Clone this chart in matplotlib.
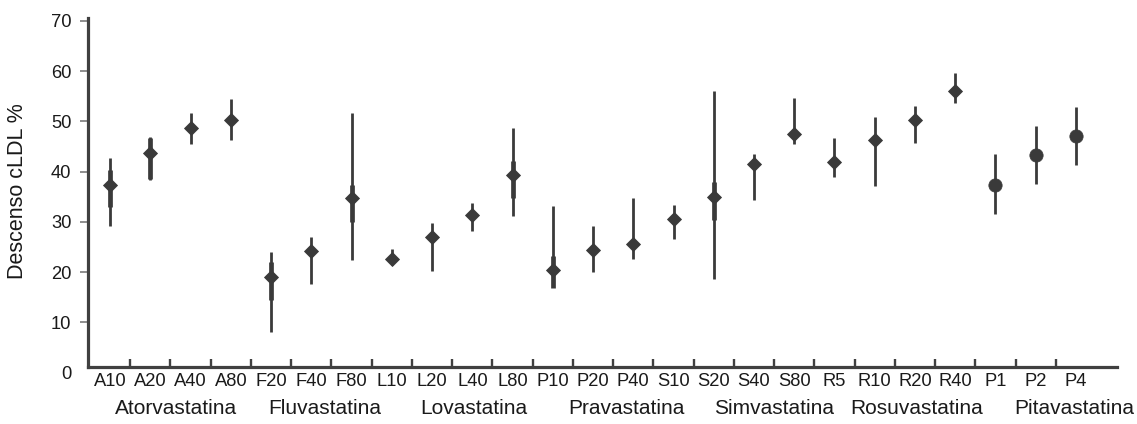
import numpy as np
import matplotlib
matplotlib.use("Agg")
import matplotlib.pyplot as plt
import matplotlib.transforms as mtransforms

plt.rcParams['font.family'] = ['Liberation Sans', 'DejaVu Sans']

# ---- data ----
categories = ["A10", "A20", "A40", "A80", "F20", "F40", "F80", "L10", "L20", "L40", "L80",
              "P10", "P20", "P40", "S10", "S20", "S40", "S80", "R5", "R10", "R20", "R40",
              "P1", "P2", "P4"]
center = [37.3, 43.6, 48.7, 50.3, 19.1, 24.1, 34.7, 22.7, 27.0, 31.4, 39.3,
          20.4, 24.4, 25.6, 30.5, 34.9, 41.5, 47.5, 42.0, 46.3, 50.3, 56.1,
          37.3, 43.3, 47.1]
range_low = [29.2, 38.3, 45.5, 46.3, 8.1, 17.6, 22.4, 21.4, 20.3, 28.2, 31.2,
             17.0, 20.1, 22.6, 26.6, 18.6, 34.3, 45.4, 39.0, 37.1, 45.6, 53.6,
             31.5, 37.5, 41.3]
range_high = [42.8, 46.8, 51.7, 54.5, 23.9, 26.9, 51.6, 24.5, 29.8, 33.8, 48.6,
              33.2, 29.2, 34.8, 33.4, 56.1, 43.5, 54.7, 46.6, 50.8, 53.0, 59.6,
              43.5, 49.1, 52.9]
# inner (thicker) interval, NaN where not drawn
inner_low = [32.9, 38.5, np.nan, np.nan, 14.4, np.nan, 30.0, np.nan, np.nan, np.nan, 34.7,
             16.8, np.nan, np.nan, np.nan, 30.4, np.nan, np.nan, np.nan, np.nan, np.nan, np.nan,
             np.nan, np.nan, np.nan]
inner_high = [40.3, 46.6, np.nan, np.nan, 22.1, np.nan, 37.3, np.nan, np.nan, np.nan, 42.2,
              23.2, np.nan, np.nan, np.nan, 38.0, np.nan, np.nan, np.nan, np.nan, np.nan, np.nan,
              np.nan, np.nan, np.nan]
marker_kind = ["D"] * 22 + ["o"] * 3
groups = ["Atorvastatina", "Fluvastatina", "Lovastatina", "Pravastatina",
          "Simvastatina", "Rosuvastatina", "Pitavastatina"]
ytick_values = [0, 10, 20, 30, 40, 50, 60, 70]

# ---- layout / style ----
group_label_x = [1.64, 5.33, 9.03, 12.82, 16.5, 20.04, 23.95]
dark = "#3a3a3a"

W, H = 1137, 424
fig = plt.figure(figsize=(W / 100, H / 100), dpi=100)
ax = fig.add_axes([88 / W, 1 - 372.6 / H, (1117 - 88) / W, (372.6 - 18.3) / H])

x = np.arange(len(categories))
ax.vlines(x, range_low, range_high, color=dark, lw=2.0, zorder=2)
ax.vlines(x, inner_low, inner_high, color=dark, lw=3.4, zorder=2)
for xi, yi, mk in zip(x, center, marker_kind):
    if mk == "D":
        ax.plot(xi, yi, marker="D", ms=7.0, color=dark, mec=dark, mew=0.6, zorder=3)
    else:
        ax.plot(xi, yi, marker="o", ms=9.6, color=dark, mec=dark, mew=0.5, zorder=3)

ax.set_xlim(-0.55, 25.02)
ax.set_ylim(0, 70.5)

# spines
for s in ["top", "right"]:
    ax.spines[s].set_visible(False)
ax.spines["bottom"].set_position(("data", 1.05))
ax.spines["left"].set_bounds(1.05, 70.5)
for s in ["bottom", "left"]:
    ax.spines[s].set_linewidth(2.3)
    ax.spines[s].set_color("#404040")

# x ticks: labels at categories, tick marks between
ax.set_xticks(x)
ax.set_xticklabels(categories, fontsize=13.2)
ax.tick_params(axis="x", which="major", length=0, pad=4, colors="#1a1a1a")
ax.set_xticks(x[:-1] + 0.5, minor=True)
ax.tick_params(axis="x", which="minor", direction="in", length=6, width=1.7, color="#404040")

# y ticks
ax.set_yticks(ytick_values)
ax.set_yticklabels([str(v) for v in ytick_values], fontsize=13.2)
ax.tick_params(axis="y", which="major", direction="out", length=6, width=1.2,
               color="#7a7a7a", labelcolor="#1a1a1a", pad=6)
ax.yaxis.get_major_ticks()[0].tick1line.set_visible(False)

ax.set_ylabel("Descenso cLDL %", fontsize=15.5, color="#1a1a1a")
ax.yaxis.set_label_coords(-0.0583, 0.511)

trans = mtransforms.blended_transform_factory(ax.transData, ax.transAxes)
for gx, g in zip(group_label_x, groups):
    ax.text(gx, (372.6 - 414) / (372.6 - 18.3), g, transform=trans, ha="center",
            va="baseline", fontsize=15, color="#1a1a1a", clip_on=False)

fig.savefig("out.png", dpi=100)
